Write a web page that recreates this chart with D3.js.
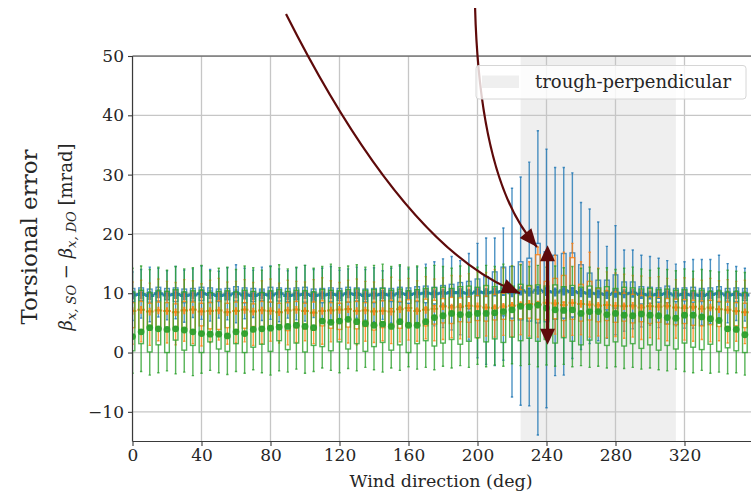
<!DOCTYPE html>
<html><head><meta charset="utf-8">
<script src="https://cdn.jsdelivr.net/npm/d3@7"></script>
<style>
body{margin:0;background:#fff}
svg{display:block}
text{font-family:"DejaVu Serif",serif;fill:#262626}
</style>
</head><body><svg id="c" width="751" height="493"></svg>
<script>
// ---------------- data ----------------
const directions = [
  0,5,10,15,20,25,30,35,40,45,50,55,
  60,65,70,75,80,85,90,95,100,105,110,115,
  120,125,130,135,140,145,150,155,160,165,170,175,
  180,185,190,195,200,205,210,215,220,225,230,235,
  240,245,250,255,260,265,270,275,280,285,290,295,
  300,305,310,315,320,325,330,335,340,345,350,355];
const xTicks = [0,40,80,120,160,200,240,280,320,360];
const yTicks = [-10,0,10,20,30,40,50];
const shadeRange = [225,315];
const legendLabel = "trough-perpendicular";

// Series 1 (blue)
const blueHi = [
  13.6,14.0,14.4,14.2,13.8,14.5,13.9,14.1,14.6,14.0,13.7,14.3,
  14.8,14.2,13.9,14.4,14.6,14.1,13.8,14.3,14.7,14.0,14.2,14.5,
  13.9,14.1,14.4,14.0,14.3,13.8,14.2,14.6,14.1,14.4,14.9,15.3,
  15.8,16.2,15.5,16.7,18.4,19.3,19.3,21.0,27.7,29.6,32.1,37.4,
  34.3,31.2,31.2,30.3,25.3,24.2,22.0,17.9,21.4,17.3,17.3,16.4,
  16.2,15.9,15.5,14.9,15.3,15.7,15.7,15.7,16.4,15.0,14.5,14.2];
const blueQ3 = [
  10.8,10.9,10.7,11.0,10.8,10.9,10.7,10.8,11.0,10.9,10.7,10.8,
  11.1,10.9,10.8,10.7,11.0,10.9,10.8,10.9,11.0,10.7,10.8,10.9,
  10.8,11.0,10.9,10.7,10.8,10.9,10.8,11.0,10.9,11.1,11.2,11.0,
  11.3,11.5,11.8,12.0,12.4,12.8,13.6,14.4,14.5,15.3,15.9,18.4,
  17.0,16.4,16.7,16.8,14.8,13.4,12.2,12.2,13.1,11.9,11.9,11.1,
  11.0,10.9,11.2,10.8,10.9,11.0,10.8,10.9,11.1,10.8,10.9,10.8];
const blueMed = [
  10.0,10.1,9.9,10.2,10.0,10.1,9.9,10.0,10.2,10.1,9.9,10.0,
  10.2,10.0,9.9,10.1,10.0,10.2,9.9,10.0,10.1,9.9,10.0,10.1,
  10.0,10.2,10.1,9.9,10.0,10.1,10.0,10.2,10.1,10.2,10.3,10.2,
  10.3,10.4,10.5,10.4,10.6,10.5,10.7,10.8,10.6,10.9,10.8,11.0,
  10.8,10.6,10.7,10.8,10.5,10.4,10.3,10.2,10.4,10.2,10.3,10.1,
  10.0,10.1,10.2,10.0,10.1,10.0,9.9,10.1,10.2,10.0,10.1,10.0];
const blueMean = [
  9.7,9.8,9.6,9.9,9.7,9.8,9.6,9.7,9.9,9.8,9.6,9.7,
  9.9,9.7,9.6,9.8,9.7,9.9,9.6,9.7,9.8,9.6,9.7,9.8,
  9.7,9.9,9.8,9.6,9.7,9.8,9.7,9.9,9.8,9.9,10.0,9.9,
  10.0,10.1,10.1,10.0,10.2,10.1,10.2,10.3,10.1,10.4,10.2,10.5,
  10.3,10.2,10.4,10.3,10.1,10.0,9.9,9.8,10.0,9.9,10.0,9.8,
  9.7,9.8,9.9,9.7,9.8,9.7,9.6,9.8,9.9,9.7,9.8,9.7];
const blueQ1 = [
  8.6,8.8,8.5,8.7,8.9,8.6,8.4,8.7,8.8,8.5,8.6,8.9,
  8.7,8.4,8.6,8.8,8.5,8.7,8.6,8.9,8.5,8.7,8.4,8.6,
  8.8,8.5,8.7,8.6,8.4,8.8,8.6,8.5,8.3,8.6,8.4,8.2,
  8.0,7.9,7.6,7.4,7.0,6.8,6.5,6.2,5.8,5.5,5.3,5.0,
  5.2,5.6,5.8,6.0,6.4,6.6,7.0,7.2,7.5,7.8,8.0,8.2,
  8.3,8.5,8.4,8.6,8.7,8.5,8.6,8.8,8.5,8.7,8.6,8.8];
const blueLo = [
  5.4,5.8,5.2,6.0,5.5,5.7,5.1,5.9,5.6,5.3,5.8,5.5,
  5.0,5.7,5.9,5.4,5.6,5.2,5.8,5.5,5.3,5.9,5.6,5.1,
  5.7,5.4,5.8,5.5,5.2,5.6,5.0,5.3,4.9,4.8,5.2,4.5,
  4.2,3.8,3.0,2.1,-0.9,-2.0,-2.2,-1.3,-7.5,-8.9,-9.0,-13.9,
  -9.3,-3.9,-3.8,-1.0,0.5,1.5,2.0,2.4,3.0,3.6,4.0,4.3,
  4.6,4.2,4.8,4.5,4.1,4.1,4.6,4.9,5.2,5.0,5.4,5.3];

// Series 2 (orange)
const orangeHi = [
  11.9,12.2,11.7,12.4,12.0,11.8,12.3,12.1,11.6,12.2,12.5,11.9,
  12.0,12.3,11.8,12.1,12.4,11.7,12.2,12.0,11.9,12.3,12.6,12.1,
  11.8,12.2,12.4,12.0,11.9,12.3,12.7,12.2,12.5,12.1,12.8,12.4,
  12.6,13.0,12.9,13.3,13.6,13.5,14.0,14.2,14.6,14.9,15.3,17.8,
  16.5,16.4,16.9,18.4,15.3,16.9,14.2,13.6,13.4,13.2,13.0,12.9,
  12.6,12.8,12.5,12.3,12.6,12.4,12.2,12.5,12.1,12.3,12.0,12.2];
const orangeQ3 = [
  8.4,8.6,8.3,8.5,8.4,8.2,8.6,8.5,8.3,8.4,8.7,8.3,
  8.5,8.4,8.2,8.6,8.5,8.3,8.4,8.6,8.3,8.5,8.7,8.4,
  8.3,8.5,8.6,8.4,8.5,8.7,8.8,8.6,8.9,8.7,9.0,8.8,
  9.1,9.3,9.2,9.4,9.6,9.5,9.8,10.0,10.3,10.6,11.2,16.5,
  12.0,12.5,13.0,16.0,11.5,12.0,10.8,10.4,10.2,10.0,9.8,9.6,
  9.4,9.3,9.1,9.0,8.9,8.8,8.7,8.8,8.6,8.5,8.4,8.3];
const orangeMed = [
  7.1,7.2,7.0,7.2,7.1,6.9,7.2,7.3,7.0,7.1,7.2,6.9,
  7.1,7.3,7.0,7.2,7.1,6.9,7.2,7.3,7.1,6.8,7.1,7.2,
  7.3,7.4,7.1,7.2,7.0,7.1,7.4,7.6,7.1,7.3,7.5,7.9,
  7.7,7.8,8.0,7.9,7.7,7.6,7.8,8.0,8.1,8.3,8.2,8.5,
  8.4,8.1,8.5,8.3,8.2,8.0,8.1,8.0,7.9,8.0,7.7,7.9,
  7.8,8.0,7.7,7.6,7.8,7.5,7.7,7.4,7.3,7.1,6.9,6.8];
const orangeMean = [
  7.0,7.2,6.9,7.1,7.0,6.8,7.1,7.2,6.9,7.0,7.1,6.8,
  7.0,7.2,6.9,7.1,7.0,6.8,7.1,7.2,7.0,6.7,7.0,7.1,
  7.2,7.3,7.0,7.1,6.9,7.0,6.9,7.3,7.5,7.0,7.2,7.4,
  7.8,7.6,7.7,7.9,7.8,7.6,7.5,7.7,7.9,8.0,8.2,8.1,
  8.4,8.3,8.0,8.4,8.2,8.1,7.9,8.0,7.9,7.8,7.9,7.6,
  7.8,7.7,7.9,7.6,7.5,7.7,7.4,7.6,7.3,7.2,7.0,6.8];
const orangeQ1 = [
  4.2,3.8,4.4,4.0,3.6,4.3,4.1,3.7,4.5,4.0,3.9,4.2,
  3.6,4.1,4.4,3.8,4.0,4.3,3.7,4.2,4.0,3.8,4.5,4.1,
  3.9,4.3,4.0,4.4,3.8,4.2,4.6,4.1,4.4,4.7,4.5,4.8,
  5.0,4.9,5.2,5.1,5.4,5.3,5.5,5.6,5.4,5.7,5.8,5.6,
  5.5,5.7,5.4,5.6,5.3,5.5,5.2,5.4,5.1,5.3,5.0,5.2,
  4.9,5.1,4.8,4.7,4.9,4.6,4.5,4.7,4.4,4.3,4.5,4.2];
const orangeLo = [
  1.4,1.8,1.2,2.0,1.6,1.3,1.9,1.5,1.1,1.7,2.1,1.4,
  1.6,1.8,1.2,1.5,1.9,1.6,1.3,1.7,2.0,1.5,1.4,1.8,
  2.2,1.6,1.3,1.9,1.7,2.0,1.5,1.8,2.1,1.9,2.3,2.0,
  2.2,2.5,2.3,2.6,2.4,2.8,2.6,2.9,2.7,3.0,2.8,2.6,
  2.9,3.1,2.7,2.9,3.0,2.6,2.8,2.5,2.7,2.4,2.6,2.2,
  2.5,2.3,2.0,2.4,2.1,1.9,2.2,1.8,2.0,1.6,1.9,1.5];

// Series 3 (green)
const greenHi = [
  14.2,14.6,14.0,14.4,13.9,14.5,14.1,14.3,14.7,13.8,14.2,14.4,
  14.0,14.6,14.3,13.9,14.5,14.8,14.1,14.4,14.7,14.2,14.5,14.9,
  14.3,14.6,14.8,14.4,14.7,14.9,14.5,14.8,14.4,14.6,14.3,14.7,
  14.5,14.2,14.6,14.8,14.4,14.7,14.5,14.9,14.6,14.8,14.5,14.7,
  14.4,14.6,14.3,14.5,14.2,14.4,14.1,14.3,14.0,14.2,14.4,14.1,
  13.9,14.2,14.0,13.8,14.1,13.7,14.0,13.8,13.6,13.9,13.7,13.5];
const greenQ3 = [
  10.2,10.5,10.1,10.4,10.3,10.6,10.2,10.4,10.5,10.1,10.3,10.4,
  10.2,10.5,10.3,10.1,10.4,10.6,10.3,10.5,10.4,10.2,10.6,10.5,
  10.4,10.6,10.7,10.5,10.6,10.8,10.5,10.7,10.4,10.6,10.8,10.9,
  11.0,10.8,11.1,11.2,11.0,11.3,11.1,11.4,11.2,11.5,11.3,11.4,
  11.2,11.4,11.1,11.3,11.0,11.2,10.9,11.1,10.8,11.0,10.9,10.7,
  10.8,10.6,10.7,10.5,10.6,10.4,10.5,10.3,10.4,10.2,10.3,10.1];
const greenMed = [
  3.0,3.8,4.4,4.3,4.1,4.3,4.0,3.8,3.5,3.4,3.3,3.1,
  3.8,3.5,4.2,4.3,4.4,4.6,4.7,4.9,4.7,4.5,5.6,5.4,
  5.6,5.9,5.5,5.2,4.9,5.1,4.7,5.5,4.9,4.9,5.5,6.2,
  6.5,6.9,6.7,6.7,6.9,6.9,7.0,7.2,7.5,8.1,8.0,8.3,
  7.8,7.5,7.4,7.5,6.9,7.2,7.2,6.7,6.9,6.6,6.5,6.8,
  6.6,6.5,6.2,6.1,6.6,6.6,6.3,6.0,5.7,4.3,4.2,3.3];
const greenMean = [
  2.7,3.5,4.2,4.0,3.9,4.0,3.8,3.5,3.2,3.1,3.1,2.8,
  3.5,3.2,3.9,4.0,4.1,4.3,4.4,4.6,4.4,4.2,5.3,5.1,
  5.3,5.6,5.2,4.9,4.6,4.8,4.4,5.2,4.6,4.6,5.2,5.9,
  6.2,6.6,6.4,6.4,6.6,6.6,6.7,6.9,7.2,7.8,7.7,8.0,
  7.5,7.2,7.1,7.2,6.6,6.9,6.9,6.4,6.6,6.3,6.2,6.5,
  6.3,6.2,5.9,5.8,6.3,6.3,6.0,5.7,5.4,4.0,3.9,3.0];
const greenQ1 = [
  0.3,1.5,0.1,1.3,0.0,2.1,0.4,1.2,0.0,1.8,0.6,0.2,
  1.5,0.0,0.9,1.4,0.2,2.0,0.5,1.6,0.1,1.2,1.0,0.3,
  1.8,0.6,1.5,0.2,1.0,1.7,0.4,1.3,0.0,1.5,2.0,1.1,
  1.6,2.2,1.4,1.9,2.5,1.8,2.3,1.7,2.6,2.0,2.4,1.9,
  2.2,1.6,2.5,1.9,1.3,2.1,1.6,1.2,1.8,1.1,1.5,0.7,
  1.3,0.4,1.2,0.6,1.6,0.9,0.5,1.4,0.2,0.8,0.3,0.0];
const greenLo = [
  -3.5,-3.2,-3.8,-3.4,-3.1,-3.6,-3.3,-3.9,-3.5,-3.0,-3.4,-3.7,
  -3.2,-3.5,-2.9,-3.4,-3.8,-3.1,-3.3,-2.8,-3.5,-3.2,-2.6,-3.0,
  -3.4,-2.7,-3.1,-2.5,-2.9,-3.3,-2.6,-3.0,-2.4,-2.8,-2.5,-2.9,
  -2.3,-2.6,-2.2,-2.5,-2.0,-2.4,-2.1,-2.3,-1.9,-2.2,-2.0,-2.4,
  -2.1,-2.3,-2.0,-2.4,-2.2,-2.5,-2.3,-2.6,-2.4,-2.7,-2.5,-2.8,
  -2.6,-2.9,-3.1,-2.8,-3.2,-3.4,-3.0,-3.5,-3.3,-3.6,-3.4,-3.8];

// annotation arrows (data coordinates: [deg, mrad])
const arrowCurve1 = [[89,57.1],[158,17.3],[224.6,10.0]];
const arrowCurve2 = [[198.6,58.1],[201.4,28.4],[234.5,17.8]];
const arrowDouble = [[240.6,18.1],[240.6,1.3]];

// ---------------- drawing ----------------
const W = 751, H = 493;
const L = 132.5, T = 56, B = 441.5;
const x = d3.scaleLinear().domain([0,360]).range([L, L + 621]);
const y = d3.scaleLinear().domain([-15,50]).range([B, T]);
const svg = d3.select('#c');

svg.append('defs').append('clipPath').attr('id','plotclip')
  .append('rect').attr('x',L).attr('y',T).attr('width',W-L).attr('height',B-T);

// shaded region
svg.append('rect').attr('x',x(shadeRange[0])).attr('y',T)
  .attr('width',x(shadeRange[1])-x(shadeRange[0])).attr('height',B-T)
  .attr('fill','#efefef');

// grid
const grid = svg.append('g').attr('clip-path','url(#plotclip)');
grid.selectAll('.gx').data(xTicks).join('line')
  .attr('x1',d=>x(d)).attr('x2',d=>x(d)).attr('y1',T).attr('y2',B)
  .attr('stroke','#c6c6c6').attr('stroke-width',1.3);
grid.selectAll('.gy').data(yTicks).join('line')
  .attr('x1',L).attr('x2',W).attr('y1',d=>y(d)).attr('y2',d=>y(d))
  .attr('stroke','#c6c6c6').attr('stroke-width',1.3);

// box plots
const series = [
  {color:'#1f77b4', lo:blueLo, q1:blueQ1, med:blueMed, q3:blueQ3, hi:blueHi, mean:blueMean, marker:'P'},
  {color:'#ff7f0e', lo:orangeLo, q1:orangeQ1, med:orangeMed, q3:orangeQ3, hi:orangeHi, mean:orangeMean, marker:'+'},
  {color:'#2ca02c', lo:greenLo, q1:greenQ1, med:greenMed, q3:greenQ3, hi:greenHi, mean:greenMean, marker:'o'}
];
const boxW = 2.7;   // degrees
const plot = svg.append('g').attr('clip-path','url(#plotclip)');
series.forEach(s => {
  const g = plot.append('g').attr('stroke', s.color).attr('stroke-opacity',0.8)
     .attr('stroke-width',1.4).attr('fill','none');
  const rows = directions.map((d,i)=>({d, lo:s.lo[i], q1:s.q1[i], med:s.med[i], q3:s.q3[i], hi:s.hi[i], mean:s.mean[i]}));
  g.selectAll('.wl').data(rows).join('line')
    .attr('x1',r=>x(r.d)).attr('x2',r=>x(r.d)).attr('y1',r=>y(r.lo)).attr('y2',r=>y(r.q1));
  g.selectAll('.wh').data(rows).join('line')
    .attr('x1',r=>x(r.d)).attr('x2',r=>x(r.d)).attr('y1',r=>y(r.q3)).attr('y2',r=>y(r.hi));
  g.selectAll('.cl').data(rows).join('line')
    .attr('x1',r=>x(r.d-boxW/4)).attr('x2',r=>x(r.d+boxW/4)).attr('y1',r=>y(r.lo)).attr('y2',r=>y(r.lo));
  g.selectAll('.ch').data(rows).join('line')
    .attr('x1',r=>x(r.d-boxW/4)).attr('x2',r=>x(r.d+boxW/4)).attr('y1',r=>y(r.hi)).attr('y2',r=>y(r.hi));
  g.selectAll('.bx').data(rows).join('rect')
    .attr('x',r=>x(r.d-boxW/2)).attr('width',x(boxW)-x(0))
    .attr('y',r=>y(r.q3)).attr('height',r=>y(r.q1)-y(r.q3));
  g.selectAll('.md').data(rows).join('line')
    .attr('x1',r=>x(r.d-boxW/2)).attr('x2',r=>x(r.d+boxW/2)).attr('y1',r=>y(r.med)).attr('y2',r=>y(r.med));
  const m = plot.append('g');
  if (s.marker==='P') {
    m.selectAll('path').data(rows).join('path')
      .attr('d', d3.symbol(d3.symbolCross).size(46))
      .attr('transform', r=>`translate(${x(r.d)},${y(r.mean)})`)
      .attr('fill', s.color).attr('fill-opacity',0.9);
  } else if (s.marker==='+') {
    m.selectAll('path').data(rows).join('path')
      .attr('d', r=>{const cx=x(r.d), cy=y(r.mean);
        return `M${cx-3.8},${cy}H${cx+3.8}M${cx},${cy-3.8}V${cy+3.8}`;})
      .attr('stroke', s.color).attr('stroke-width',2).attr('stroke-opacity',0.9).attr('fill','none');
  } else {
    m.selectAll('circle').data(rows).join('circle')
      .attr('cx', r=>x(r.d)).attr('cy', r=>y(r.mean)).attr('r',3.4)
      .attr('fill', s.color).attr('fill-opacity',0.95);
  }
});

// spines
const spine = '#3a3a3a';
svg.append('line').attr('x1',L).attr('x2',L).attr('y1',T).attr('y2',B).attr('stroke',spine).attr('stroke-width',1.2);
svg.append('line').attr('x1',L).attr('x2',W).attr('y1',T).attr('y2',T).attr('stroke',spine).attr('stroke-width',1.2);
svg.append('line').attr('x1',L).attr('x2',W).attr('y1',B).attr('y2',B).attr('stroke',spine).attr('stroke-width',1.2);

// axes
const fmt = d => d < 0 ? '\u2212' + Math.abs(d) : String(d);
const yAxis = svg.append('g').attr('transform',`translate(${L},0)`)
  .call(d3.axisLeft(y).tickValues(yTicks).tickFormat(fmt).tickSize(4.5).tickPadding(4));
const xAxis = svg.append('g').attr('transform',`translate(0,${B})`)
  .call(d3.axisBottom(x).tickValues(xTicks.filter(v=>x(v)<=W)).tickFormat(fmt).tickSize(4.5).tickPadding(3));
[yAxis,xAxis].forEach(a=>{
  a.select('.domain').remove();
  a.selectAll('.tick line').attr('stroke',spine).attr('stroke-width',1.1);
  a.selectAll('.tick text').attr('font-family','DejaVu Serif').attr('font-size',17).attr('fill','#262626');
});

// axis labels
svg.append('text').attr('x',441).attr('y',487).attr('text-anchor','middle')
  .attr('font-size',17.5).text('Wind direction (deg)');
svg.append('text').attr('transform','translate(37,237) rotate(-90)').attr('text-anchor','middle')
  .attr('font-size',23).text('Torsional error');
const yl2 = svg.append('text').attr('transform','translate(72,237) rotate(-90)').attr('text-anchor','middle')
  .attr('font-size',18);
yl2.append('tspan').attr('font-style','italic').text('β');
yl2.append('tspan').attr('font-style','italic').attr('font-size',13).attr('dy',4).text('x, SO');
yl2.append('tspan').attr('dy',-4).text(' − ');
yl2.append('tspan').attr('font-style','italic').text('β');
yl2.append('tspan').attr('font-style','italic').attr('font-size',13).attr('dy',4).text('x, DO');
yl2.append('tspan').attr('dy',-4).text(' [mrad]');

// annotation arrows
const arrowColor = '#5e0a0a';
const ann = svg.append('g');
function head(tip, from, len, half){
  const dx = tip[0]-from[0], dy = tip[1]-from[1], n = Math.hypot(dx,dy);
  const ux = dx/n, uy = dy/n;
  const bx = tip[0]-ux*len, by = tip[1]-uy*len;
  return `M${tip[0]},${tip[1]}L${bx-uy*half},${by+ux*half}L${bx+uy*half},${by-ux*half}Z`;
}
[arrowCurve1, arrowCurve2].forEach(c=>{
  const p = c.map(d=>[x(d[0]), y(d[1])]);
  const t = 0.93;
  const q = (a,b,c2,tt)=> (1-tt)*(1-tt)*a + 2*tt*(1-tt)*b + tt*tt*c2;
  const endPt = [q(p[0][0],p[1][0],p[2][0],t), q(p[0][1],p[1][1],p[2][1],t)];
  const path = d3.path();
  path.moveTo(p[0][0],p[0][1]);
  path.quadraticCurveTo(p[1][0],p[1][1],p[2][0],p[2][1]);
  ann.append('path').attr('d',path.toString()).attr('fill','none')
     .attr('stroke',arrowColor).attr('stroke-width',2.2);
  ann.append('path').attr('d',head(p[2], endPt, 18, 7.5)).attr('fill',arrowColor);
});
{
  const a = [x(arrowDouble[0][0]), y(arrowDouble[0][1])];
  const b = [x(arrowDouble[1][0]), y(arrowDouble[1][1])];
  ann.append('line').attr('x1',a[0]).attr('y1',a[1]+10).attr('x2',b[0]).attr('y2',b[1]-10)
     .attr('stroke',arrowColor).attr('stroke-width',3);
  ann.append('path').attr('d',head(a,b,16,7.5)).attr('fill',arrowColor);
  ann.append('path').attr('d',head(b,a,16,7.5)).attr('fill',arrowColor);
}

// legend
const lg = svg.append('g');
lg.append('rect').attr('x',476).attr('y',65.5).attr('width',270).attr('height',33.5).attr('rx',3)
  .attr('fill','#ffffff').attr('fill-opacity',0.8).attr('stroke','#d6d6d6').attr('stroke-width',1);
lg.append('rect').attr('x',482).attr('y',75.5).attr('width',37).attr('height',12.5).attr('fill','#efefef');
lg.append('text').attr('x',535).attr('y',88).attr('font-size',18).text(legendLabel);
</script>
</body></html>
